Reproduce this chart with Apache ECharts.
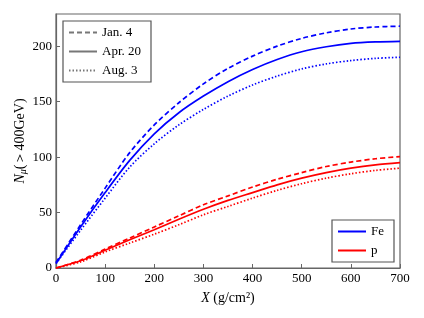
<!DOCTYPE html>
<html>
<head>
<meta charset="utf-8">
<script src="https://cdn.jsdelivr.net/npm/echarts@6/dist/echarts.min.js"></script>
<style>
  html, body { margin: 0; padding: 0; background: #fff; }
  #chart { width: 424px; height: 318px; }
</style>
</head>
<body>
<div id="chart"></div>
<script>
// depth X (g/cm2)
const depth = [0, 50, 100, 150, 200, 250, 300, 350, 400, 450, 500, 550, 600, 650, 700]

// iron primaries
const feJan = [5, 39, 72, 104, 129, 149, 166, 180, 191, 200, 207, 212, 215.5, 217.3, 218]
const feApr = [4, 37, 68, 97, 121, 140, 155, 168, 179, 188, 195, 199.5, 202.5, 203.8, 204.3]
const feAug = [4, 34, 63, 91, 112, 129, 143, 155, 165, 173, 179.5, 184, 187, 189, 190]

// proton primaries
const pJan = [0, 7, 17, 27, 37, 47, 57, 65, 73, 80, 86, 91.5, 95.5, 98.5, 100.5]
const pApr = [0, 6.5, 16, 25.5, 34.5, 44, 53, 61, 68, 75, 81, 86, 90, 93, 95]
const pAug = [0, 5.5, 14.5, 22.5, 30.5, 39, 48, 55.5, 63, 70, 76, 81, 85, 88, 90]

const FONT = 'Liberation Serif'
const DASH = [5, 3]
const DOT = [1.5, 2]

function pairs(ys) {
  return depth.map((x, i) => [x, ys[i]])
}

function curve(name, ys, color, type) {
  return {
    name,
    type: 'line',
    data: pairs(ys),
    smooth: 0.3,
    symbol: 'none',
    lineStyle: { color, width: 1.7, type },
    itemStyle: { color }
  }
}

function dummy(name, type) {
  return {
    name,
    type: 'line',
    data: [],
    symbol: 'none',
    lineStyle: { color: '#777', width: 1.3, type },
    itemStyle: { color: '#777' }
  }
}

const legendBase = {
  orient: 'vertical',
  itemWidth: 28, itemHeight: 12, itemGap: 6,
  padding: [5, 10, 5, 5],
  borderColor: '#555', borderWidth: 1.2,
  itemStyle: { opacity: 0 },
  textStyle: { fontFamily: FONT, fontSize: 13, color: '#000' }
}

const chart = echarts.init(document.getElementById('chart'))

chart.setOption({
  animation: false,
  textStyle: { fontFamily: FONT },
  grid: {
    left: 56, top: 14, right: 24, bottom: 50,
    outerBoundsMode: 'none',
    show: true, borderColor: '#666', borderWidth: 1.2
  },
  legend: [
    Object.assign({ data: ['Jan. 4', 'Apr. 20', 'Aug. 3'], left: 63, top: 21 }, legendBase),
    Object.assign({ data: ['Fe', 'p'], right: 30, top: 220 }, legendBase)
  ],
  xAxis: {
    type: 'value',
    min: 0, max: 700, interval: 100,
    name: '{i|X} (g/cm²)',
    nameLocation: 'middle',
    nameGap: 23,
    nameTextStyle: {
      fontFamily: FONT, fontSize: 14, color: '#000',
      rich: { i: { fontFamily: FONT, fontSize: 14, fontStyle: 'italic' } }
    },
    axisLine: { lineStyle: { color: '#666', width: 1.2 } },
    axisTick: { inside: true, length: 4, lineStyle: { color: '#666' } },
    axisLabel: { fontFamily: FONT, fontSize: 13, color: '#000', margin: 4 },
    splitLine: { show: false }
  },
  yAxis: {
    type: 'value',
    min: 0, max: 229, interval: 50,
    name: '{i|N}{s|μ}(＞400GeV)',
    nameLocation: 'middle',
    nameRotate: 90,
    nameGap: 28,
    nameMoveOverlap: false,
    nameTextStyle: {
      fontFamily: FONT, fontSize: 14, color: '#000',
      rich: {
        i: { fontFamily: FONT, fontSize: 14, fontStyle: 'italic' },
        s: { fontFamily: FONT, fontSize: 10, fontStyle: 'italic', verticalAlign: 'bottom', padding: [6, 0, 0, 0] }
      }
    },
    axisLine: { lineStyle: { color: '#666', width: 1.2 } },
    axisTick: { inside: true, length: 4, lineStyle: { color: '#666' } },
    axisLabel: { fontFamily: FONT, fontSize: 13, color: '#000', margin: 4, showMaxLabel: false },
    splitLine: { show: false }
  },
  series: [
    dummy('Jan. 4', DASH),
    dummy('Apr. 20', 'solid'),
    dummy('Aug. 3', DOT),
    curve('Fe Jan. 4', feJan, '#0000ff', DASH),
    curve('Fe', feApr, '#0000ff', 'solid'),
    curve('Fe Aug. 3', feAug, '#0000ff', DOT),
    curve('p Jan. 4', pJan, '#ff0000', DASH),
    curve('p', pApr, '#ff0000', 'solid'),
    curve('p Aug. 3', pAug, '#ff0000', DOT)
  ]
})
</script>
</body>
</html>
